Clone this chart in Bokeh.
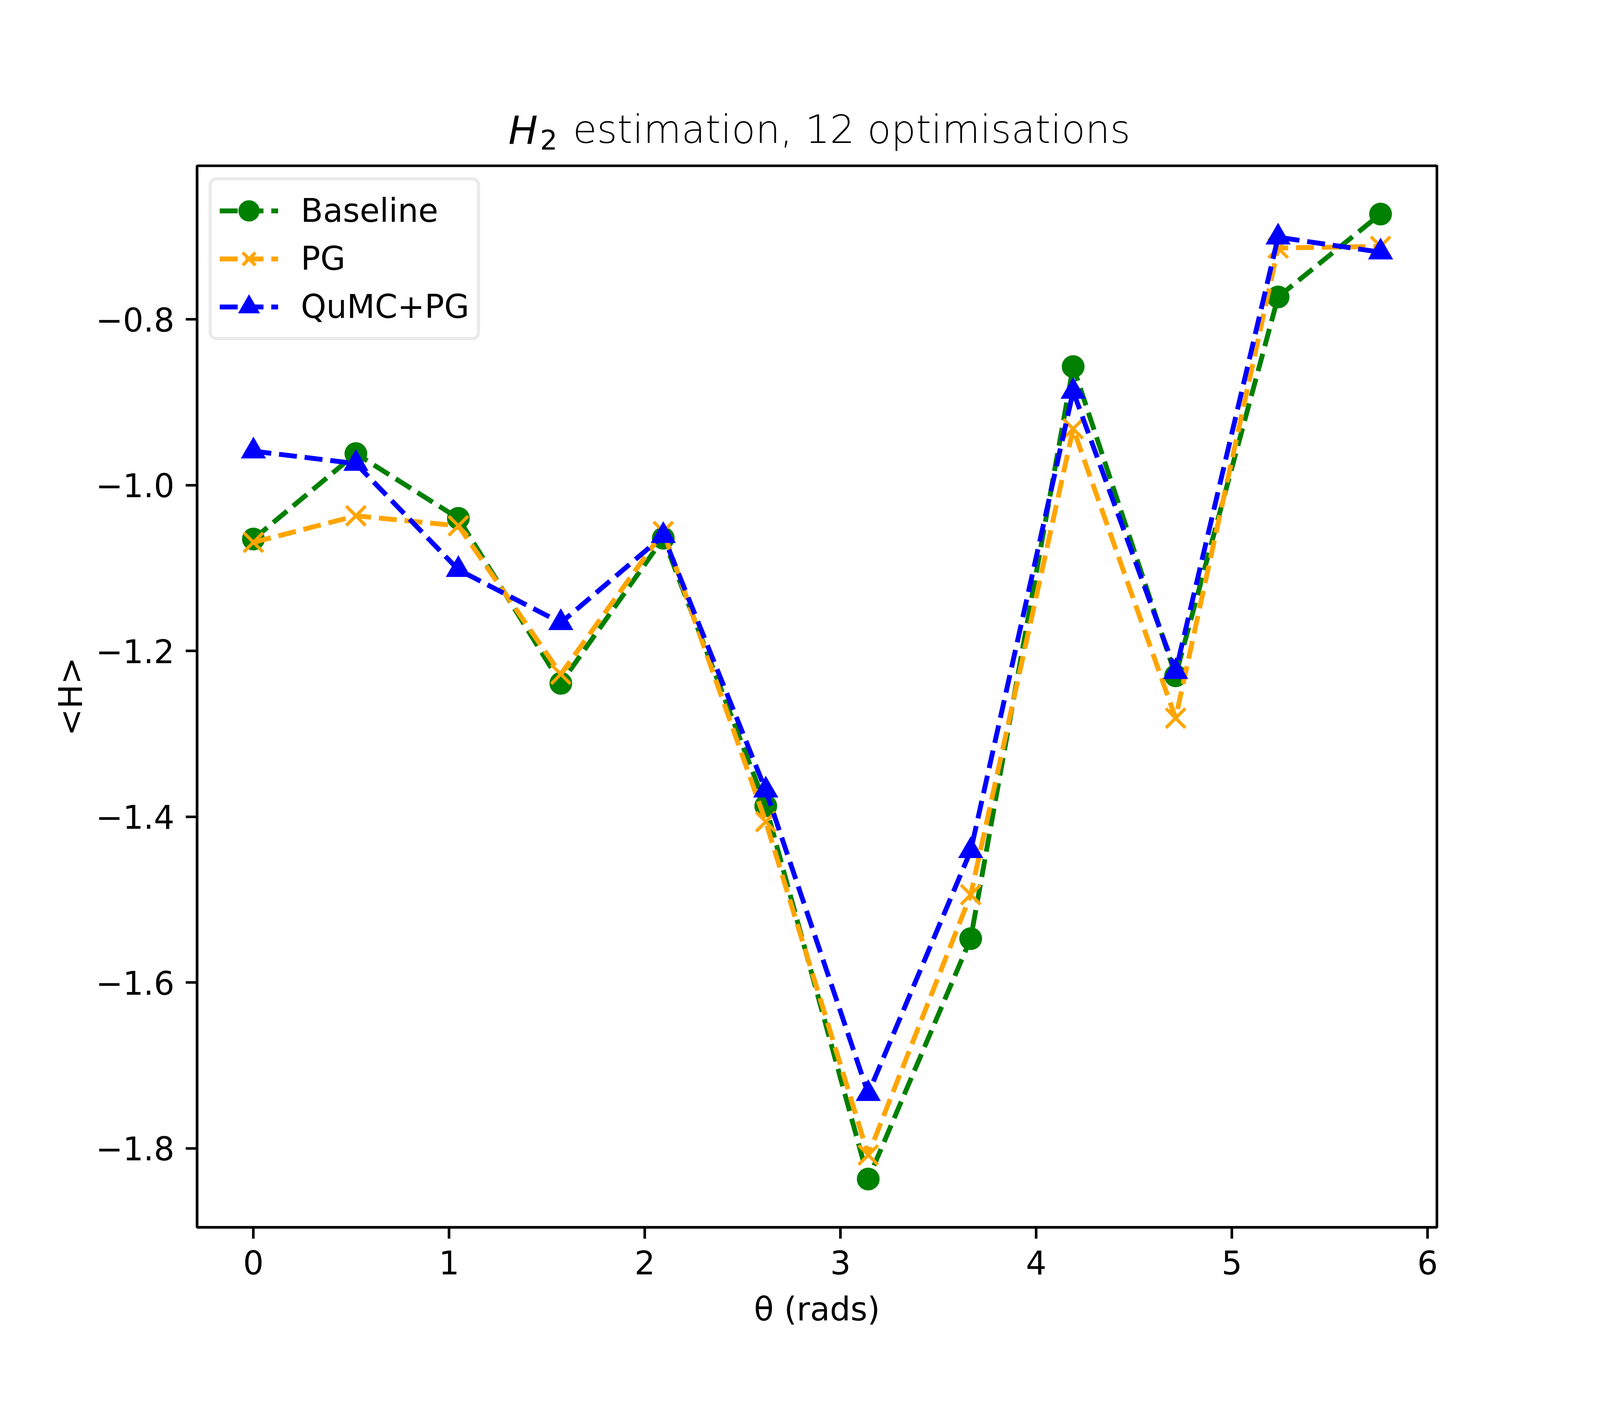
import math
from bokeh.plotting import figure
from bokeh.models import (Range1d, FixedTicker, CustomJSTickFormatter, Legend,
                          LegendItem, Label)
from bokeh.embed import file_html
from bokeh.resources import INLINE

# ---------------- data ----------------
theta = [k * math.pi / 6 for k in range(12)]
baseline = [-1.065, -0.962, -1.040, -1.239, -1.064, -1.387,
            -1.837, -1.547, -0.857, -1.230, -0.773, -0.673]
pg = [-1.069, -1.037, -1.049, -1.228, -1.056, -1.406,
      -1.808, -1.494, -0.932, -1.281, -0.714, -0.712]
qumc_pg = [-0.959, -0.974, -1.102, -1.166, -1.061, -1.368,
           -1.734, -1.441, -0.887, -1.225, -0.701, -0.719]

series_names = ["Baseline", "PG", "QuMC+PG"]
series_colors = ["green", "orange", "blue"]

x_ticks = [0, 1, 2, 3, 4, 5, 6]
x_tick_labels = ["0", "1", "2", "3", "4", "5", "6"]
y_ticks = [-1.8, -1.6, -1.4, -1.2, -1.0, -0.8]
y_tick_labels = ["\u22121.8", "\u22121.6", "\u22121.4", "\u22121.2", "\u22121.0", "\u22120.8"]

title_italic = "H"
title_sub = "2"
title_rest = "estimation, 12 optimisations"
x_label = "\u03b8 (rads)"
y_label = "<H>"

# ---------------- layout ----------------
FONT = "DejaVu Sans"
FW, FH = 3174, 2718
LW_AX = 6.67
LW = 12.5
DASH = "46 20"

all_y = baseline + pg + qumc_pg
xpad = 0.05 * (max(theta) - min(theta))
ypad = 0.05 * (max(all_y) - min(all_y))

p = figure(frame_width=FW, frame_height=FH,
           min_border_left=504, min_border_top=424,
           min_border_right=394, min_border_bottom=434,
           x_range=Range1d(min(theta) - xpad, max(theta) + xpad),
           y_range=Range1d(min(all_y) - ypad, max(all_y) + ypad),
           output_backend="svg", toolbar_location=None, title=None)

p.background_fill_color = "white"
p.border_fill_color = "white"
p.outline_line_color = "black"
p.outline_line_width = LW_AX
p.xgrid.visible = False
p.ygrid.visible = False

p.xaxis.ticker = FixedTicker(ticks=x_ticks)
p.yaxis.ticker = FixedTicker(ticks=y_ticks)
fmt_code = """
let best = -1; let bd = 1e9;
for (let i = 0; i < tk.length; i++) {
  const d = Math.abs(tk[i] - tick);
  if (d < bd) { bd = d; best = i; }
}
return (best >= 0 && bd < 1e-6) ? lb[best] : '';
"""
p.xaxis.formatter = CustomJSTickFormatter(args=dict(tk=x_ticks, lb=x_tick_labels), code=fmt_code)
p.yaxis.formatter = CustomJSTickFormatter(args=dict(tk=y_ticks, lb=y_tick_labels), code=fmt_code)

for ax in (p.xaxis, p.yaxis):
    ax.axis_line_color = "black"
    ax.axis_line_width = LW_AX
    ax.major_tick_line_color = "black"
    ax.major_tick_line_width = LW_AX
    ax.major_tick_out = 29
    ax.major_tick_in = 0
    ax.minor_tick_out = 0
    ax.minor_tick_in = 0
    ax.major_label_text_font = FONT
    ax.major_label_text_font_size = "83px"
    ax.major_label_text_color = "black"
    ax.major_label_standoff = 29
    ax.axis_label_text_font = FONT
    ax.axis_label_text_font_size = "83px"
    ax.axis_label_text_font_style = "normal"
    ax.axis_label_text_color = "black"

p.xaxis.axis_label = x_label
p.yaxis.axis_label = y_label
p.xaxis.axis_label_standoff = 38
p.yaxis.axis_label_standoff = 12

# ---------------- series ----------------
items = []
data_sets = [baseline, pg, qumc_pg]
for name, color, ys in zip(series_names, series_colors, data_sets):
    ln = p.line(theta, ys, line_color=color, line_width=LW, line_dash=DASH)
    if name == "Baseline":
        mk = p.scatter(theta, ys, marker="circle", size=50, fill_color=color,
                       line_color=color, line_width=8.33)
    elif name == "PG":
        mk = p.scatter(theta, ys, marker="x", size=70, line_color=color,
                       line_width=8.33)
    else:
        mk = p.scatter(theta, ys, marker="triangle", size=54, fill_color=color,
                       line_color=color, line_width=6, line_join="miter")
    items.append(LegendItem(label=name, renderers=[ln, mk]))

legend = Legend(items=items, location="top_left", margin=30,
                padding=20, spacing=8, glyph_width=150, glyph_height=115,
                label_standoff=58, label_text_font=FONT,
                label_text_font_size="83px", label_text_color="black",
                border_line_color="#d6d6d6", border_line_width=8.33,
                background_fill_color="white", background_fill_alpha=0.8)
if "border_radius" in Legend.properties():
    legend.border_radius = 20
p.add_layout(legend)

# ---------------- title (side panels above the frame) ----------------
TX = 797
p.add_layout(Label(x=TX, y=90, x_units="screen", y_units="screen",
                   text=title_italic, text_font=FONT, text_font_size="100px",
                   text_font_style="italic", text_baseline="alphabetic",
                   text_align="left", text_color="black"), "above")
p.add_layout(Label(x=TX + 81, y=-50, x_units="screen", y_units="screen",
                   text=title_sub, text_font=FONT, text_font_size="70px",
                   text_baseline="alphabetic", text_align="left",
                   text_color="black"), "above")
p.add_layout(Label(x=TX + 165, y=-75, x_units="screen", y_units="screen",
                   text=title_rest, text_font=FONT, text_font_size="100px",
                   text_baseline="alphabetic", text_align="left",
                   text_color="black"), "above")

open("out.html", "w").write(file_html(p, INLINE))
